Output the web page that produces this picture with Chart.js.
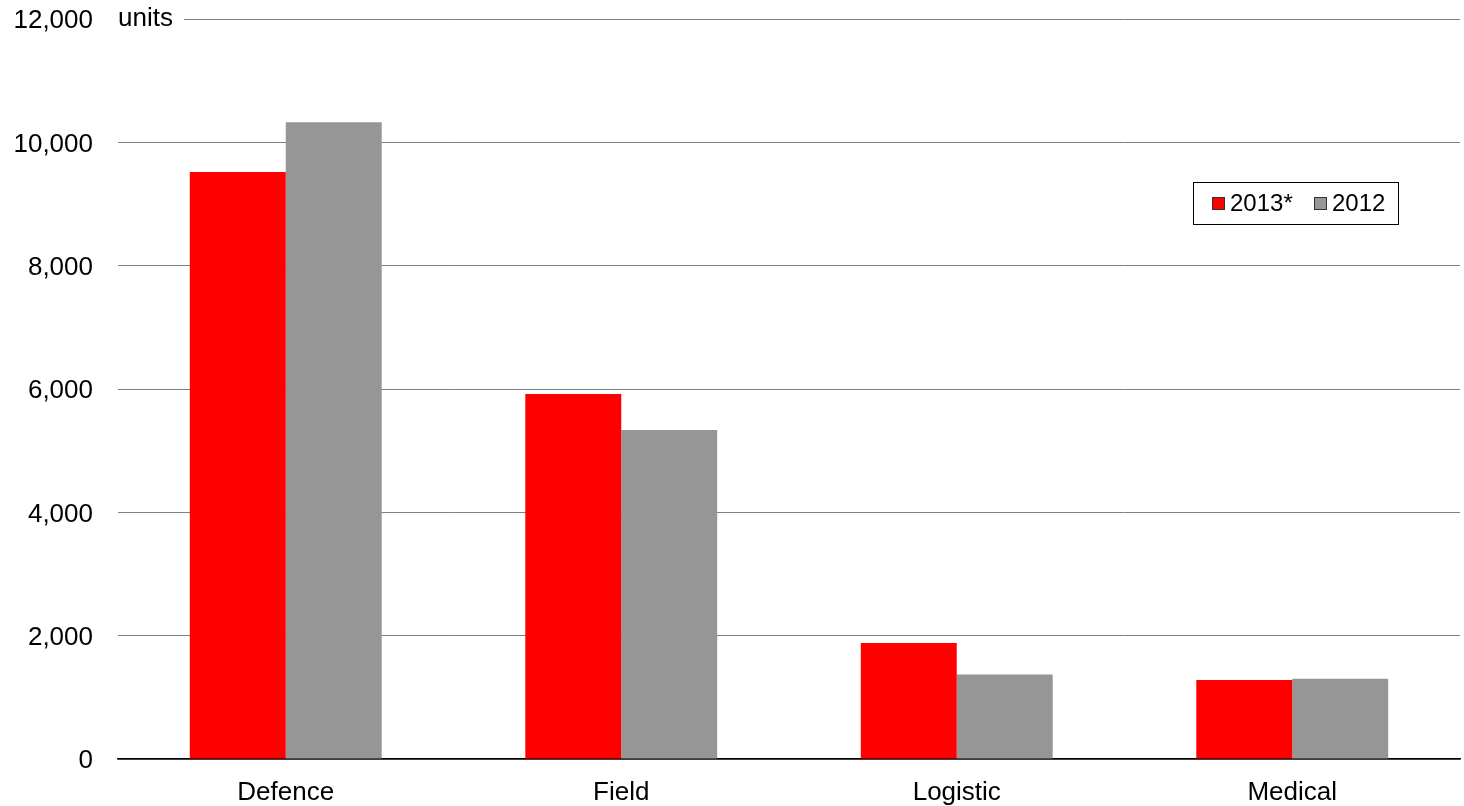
<!DOCTYPE html>
<html>
<head>
<meta charset="utf-8">
<script src="https://cdn.jsdelivr.net/npm/chart.js@4/dist/chart.umd.min.js"></script>
<style>
  html, body { margin: 0; padding: 0; background: #fff; }
  #wrap { width: 1464px; height: 806px; position: relative; }
</style>
</head>
<body>
<div id="wrap"><canvas id="c" width="1464" height="806"></canvas></div>
<script>
const categories = ['Defence', 'Field', 'Logistic', 'Medical'];
const seriesLabels = ['2013*', '2012'];
const values2013 = [9520, 5920, 1880, 1280];
const values2012 = [10325, 5335, 1370, 1300];
const yTicks = [0, 2000, 4000, 6000, 8000, 10000, 12000];
const unitLabel = 'units';

const FONT = "'Liberation Sans', Arial, sans-serif";

// Unit caption on the top gridline, with a white backing so the line starts after it
const unitPlugin = {
  id: 'unitLabel',
  afterDraw(chart) {
    const { ctx, chartArea, scales } = chart;
    const y = scales.y.getPixelForValue(yTicks[yTicks.length - 1]);
    ctx.save();
    ctx.fillStyle = '#fff';
    ctx.fillRect(chartArea.left, y - 3, 66, 6);
    ctx.fillStyle = '#000';
    ctx.font = '26px ' + FONT;
    ctx.textBaseline = 'middle';
    ctx.textAlign = 'left';
    ctx.fillText(unitLabel, chartArea.left, y);
    ctx.restore();
  }
};

// Boxed legend inside the plot area
const boxLegend = {
  id: 'boxLegend',
  afterDraw(chart) {
    const { ctx } = chart;
    const x0 = 1193, y0 = 182, w = 205, h = 42;
    ctx.save();
    ctx.fillStyle = '#fff';
    ctx.fillRect(x0, y0, w, h);
    ctx.strokeStyle = '#000';
    ctx.lineWidth = 1;
    ctx.strokeRect(x0 + 0.5, y0 + 0.5, w, h);
    ctx.font = '24px ' + FONT;
    ctx.textBaseline = 'middle';
    const cy = y0 + h / 2 + 1;
    const offsets = [19, 121];
    chart.data.datasets.forEach((ds, i) => {
      const sx = x0 + offsets[i];
      ctx.fillStyle = ds.backgroundColor;
      ctx.fillRect(sx, cy - 7, 13, 13);
      ctx.strokeStyle = '#333';
      ctx.strokeRect(sx + 0.5, cy - 7 + 0.5, 12, 12);
      ctx.fillStyle = '#000';
      ctx.textAlign = 'left';
      ctx.fillText(ds.label, sx + 18, cy);
    });
    ctx.restore();
  }
};

new Chart(document.getElementById('c'), {
  type: 'bar',
  data: {
    labels: categories,
    datasets: [
      { label: seriesLabels[0], data: values2013, backgroundColor: '#ff0000', borderWidth: 0 },
      { label: seriesLabels[1], data: values2012, backgroundColor: '#969696', borderWidth: 0 }
    ]
  },
  options: {
    responsive: false,
    animation: false,
    devicePixelRatio: 1,
    layout: { padding: { left: 0, right: 4, top: 19, bottom: 0 } },
    plugins: {
      legend: { display: false },
      tooltip: { enabled: false }
    },
    datasets: { bar: { categoryPercentage: 0.572, barPercentage: 1.0 } },
    scales: {
      x: {
        grid: { display: false, drawTicks: false },
        border: { display: true, color: '#000', width: 1.5 },
        ticks: { color: '#000', font: { family: FONT, size: 26 }, padding: 18 },
        afterFit(s) { s.height = 47; s.paddingLeft = 0; s.paddingRight = 0; }
      },
      y: {
        min: 0, max: 12000,
        afterBuildTicks(s) { s.ticks = yTicks.map(v => ({ value: v })); },
        grid: { color: '#808080', lineWidth: 1, drawTicks: false },
        border: { display: false },
        ticks: {
          color: '#000',
          font: { family: FONT, size: 26 },
          padding: 25,
          labelOffset: 2,
          callback: v => v.toLocaleString('en-US')
        },
        afterFit(s) { s.width = 118; s.paddingTop = 0; s.paddingBottom = 0; }
      }
    }
  },
  plugins: [unitPlugin, boxLegend]
});
</script>
</body>
</html>
